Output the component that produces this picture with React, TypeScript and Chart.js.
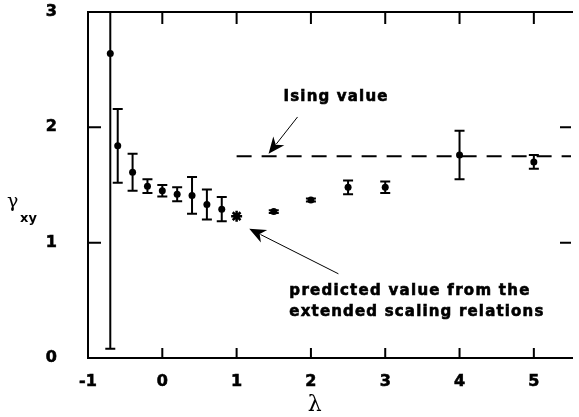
import React, { useEffect, useRef } from "react";
import { Chart, registerables } from "chart.js";

Chart.register(...registerables);

// lambda values
const lambdas = [-0.7, -0.6, -0.4, -0.2, 0, 0.2, 0.4, 0.6, 0.8, 1.5, 2, 2.5, 3, 4, 5];
// gamma_xy values
const gammas = [2.64, 1.84, 1.61, 1.49, 1.45, 1.42, 1.41, 1.33, 1.29, 1.27, 1.37, 1.48, 1.48, 1.76, 1.7];
// symmetric error bars
const errors = [2.56, 0.32, 0.16, 0.06, 0.05, 0.06, 0.16, 0.13, 0.105, 0.012, 0.012, 0.06, 0.05, 0.21, 0.06];

// predicted value from extended scaling relations
const predictedX = [1];
const predictedY = [1.23];

// Ising value line
const isingX = [1, 5.5];
const isingValue = 1.75;

const xTickValues = [-1, 0, 1, 2, 3, 4, 5];
const yTickValues = [0, 1, 2, 3];

const labelFont = "bold 15px 'DejaVu Sans'";

function fitText(ctx: CanvasRenderingContext2D, text: string, x: number, y: number, width: number) {
  (ctx as any).letterSpacing = "0px";
  const w = ctx.measureText(text).width;
  const sp = (width - w) / Math.max(1, text.length - 1);
  (ctx as any).letterSpacing = sp + "px";
  ctx.lineWidth = 0.6;
  ctx.strokeText(text, x, y);
  ctx.fillText(text, x, y);
  (ctx as any).letterSpacing = "0px";
}

function arrow(ctx: CanvasRenderingContext2D, x0: number, y0: number, x1: number, y1: number) {
  const ang = Math.atan2(y1 - y0, x1 - x0);
  const len = 18;
  const half = 0.4;
  ctx.beginPath();
  ctx.moveTo(x0, y0);
  ctx.lineTo(x1 - Math.cos(ang) * len * 0.7, y1 - Math.sin(ang) * len * 0.7);
  ctx.lineWidth = 1;
  ctx.stroke();
  ctx.beginPath();
  ctx.moveTo(x1, y1);
  ctx.lineTo(x1 - len * Math.cos(ang - half), y1 - len * Math.sin(ang - half));
  ctx.lineTo(x1 - len * 0.65 * Math.cos(ang), y1 - len * 0.65 * Math.sin(ang));
  ctx.lineTo(x1 - len * Math.cos(ang + half), y1 - len * Math.sin(ang + half));
  ctx.closePath();
  ctx.fill();
}

const overlay = {
  id: "overlay",
  beforeDatasetsDraw(chart: any) {
    const { ctx, chartArea: a, scales } = chart;
    const x = scales.x;
    const y = scales.y;
    ctx.save();
    ctx.beginPath();
    ctx.rect(a.left, a.top, a.right - a.left, a.bottom - a.top);
    ctx.clip();
    ctx.strokeStyle = "#000";
    ctx.lineWidth = 2;
    const cap = 5;
    lambdas.forEach((lv, i) => {
      const px = x.getPixelForValue(lv);
      const top = y.getPixelForValue(gammas[i] + errors[i]);
      const bot = y.getPixelForValue(gammas[i] - errors[i]);
      ctx.beginPath();
      ctx.moveTo(px, top);
      ctx.lineTo(px, bot);
      ctx.moveTo(px - cap, top);
      ctx.lineTo(px + cap, top);
      ctx.moveTo(px - cap, bot);
      ctx.lineTo(px + cap, bot);
      ctx.stroke();
    });
    ctx.restore();
  },
  afterDraw(chart: any) {
    const { ctx, chartArea: a, scales } = chart;
    const x = scales.x;
    const y = scales.y;
    ctx.save();
    ctx.strokeStyle = "#000";
    ctx.fillStyle = "#000";
    ctx.lineWidth = 2;
    // frame (left, top, bottom)
    ctx.beginPath();
    ctx.moveTo(a.right + 2, a.top);
    ctx.lineTo(a.left, a.top);
    ctx.lineTo(a.left, a.bottom);
    ctx.lineTo(a.right + 2, a.bottom);
    ctx.stroke();
    // inward ticks
    ctx.beginPath();
    xTickValues.forEach((v) => {
      if (v === -1) return;
      const px = x.getPixelForValue(v);
      ctx.moveTo(px, a.bottom);
      ctx.lineTo(px, a.bottom - 10);
      ctx.moveTo(px, a.top);
      ctx.lineTo(px, a.top + 12);
    });
    yTickValues.forEach((v) => {
      if (v === 0 || v === 3) return;
      const py = y.getPixelForValue(v);
      ctx.moveTo(a.left, py);
      ctx.lineTo(a.left + 13, py);
      ctx.moveTo(a.right, py);
      ctx.lineTo(a.right - 11, py);
    });
    ctx.stroke();

    // annotations
    ctx.font = labelFont;
    ctx.textBaseline = "middle";
    ctx.textAlign = "left";
    fitText(ctx, "Ising value", x.getPixelForValue(1.63), y.getPixelForValue(2.26), 104);
    fitText(ctx, "predicted value from the", x.getPixelForValue(1.71), y.getPixelForValue(0.58), 240);
    fitText(ctx, "extended scaling relations", x.getPixelForValue(1.71), y.getPixelForValue(0.40), 254);
    arrow(ctx, x.getPixelForValue(1.82), y.getPixelForValue(2.09), x.getPixelForValue(1.43), y.getPixelForValue(1.77));
    arrow(ctx, x.getPixelForValue(2.37), y.getPixelForValue(0.73), x.getPixelForValue(1.17), y.getPixelForValue(1.12));

    // axis titles
    ctx.font = "19px 'DejaVu Serif'";
    ctx.textAlign = "left";
    ctx.textBaseline = "alphabetic";
    ctx.fillText("γ", 7, 207);
    ctx.font = "bold 13px 'DejaVu Sans'";
    ctx.fillText("xy", 20, 222);
    ctx.font = "22px 'DejaVu Serif'";
    ctx.textAlign = "center";
    ctx.fillText("λ", x.getPixelForValue(2.05), 411);
    ctx.restore();
  },
};

export default function App() {
  const ref = useRef<HTMLCanvasElement | null>(null);
  useEffect(() => {
    if (!ref.current) return;
    const points = lambdas.map((lv, i) => ({ x: lv, y: gammas[i] }));
    const pred = predictedX.map((lv, i) => ({ x: lv, y: predictedY[i] }));
    const ising = isingX.map((lv) => ({ x: lv, y: isingValue }));
    const chart = new Chart(ref.current, {
      type: "scatter",
      data: {
        datasets: [
          {
            data: ising,
            showLine: true,
            borderColor: "#000",
            borderWidth: 2,
            borderDash: [15, 10],
            pointRadius: 0,
          },
          {
            data: points,
            backgroundColor: "#000",
            borderColor: "#000",
            pointRadius: 3.5,
            borderWidth: 0,
          },
          {
            data: pred,
            pointStyle: "star",
            pointRadius: 5.5,
            borderWidth: 2.5,
            borderColor: "#000",
            backgroundColor: "#000",
          },
        ],
      },
      options: {
        responsive: false,
        animation: false,
        devicePixelRatio: 1,
        layout: { padding: { top: 12, left: 0, right: 0, bottom: 0 } },
        plugins: { legend: { display: false }, tooltip: { enabled: false } },
        scales: {
          x: {
            type: "linear",
            min: -1,
            max: 5.5,
            grid: { display: false, drawTicks: false },
            border: { display: false },
            afterBuildTicks: (s: any) => {
              s.ticks = xTickValues.map((v) => ({ value: v }));
            },
            afterFit: (s: any) => {
              s.height = 59;
              s.paddingLeft = 0;
              s.paddingRight = 0;
            },
            ticks: {
              padding: 14,
              color: "#000",
              textStrokeColor: "#000",
              textStrokeWidth: 0.6,
              font: { family: "'DejaVu Sans'", weight: "bold", size: 16 },
              callback: (v: any) => String(v),
            },
          },
          y: {
            type: "linear",
            min: 0,
            max: 3,
            grid: { display: false, drawTicks: false },
            border: { display: false },
            afterBuildTicks: (s: any) => {
              s.ticks = yTickValues.map((v) => ({ value: v }));
            },
            afterFit: (s: any) => {
              s.width = 88;
              s.paddingTop = 0;
              s.paddingBottom = 0;
            },
            ticks: {
              padding: 31,
              color: "#000",
              textStrokeColor: "#000",
              textStrokeWidth: 0.6,
              font: { family: "'DejaVu Sans'", weight: "bold", size: 16 },
              callback: (v: any) => String(v),
            },
          },
        },
      },
      plugins: [overlay],
    });
    return () => chart.destroy();
  }, []);
  return (
    <div style={{ position: "absolute", left: 0, top: 0, width: 579, height: 417, background: "#fff" }}>
      <canvas ref={ref} width={579} height={417} />
    </div>
  );
}
